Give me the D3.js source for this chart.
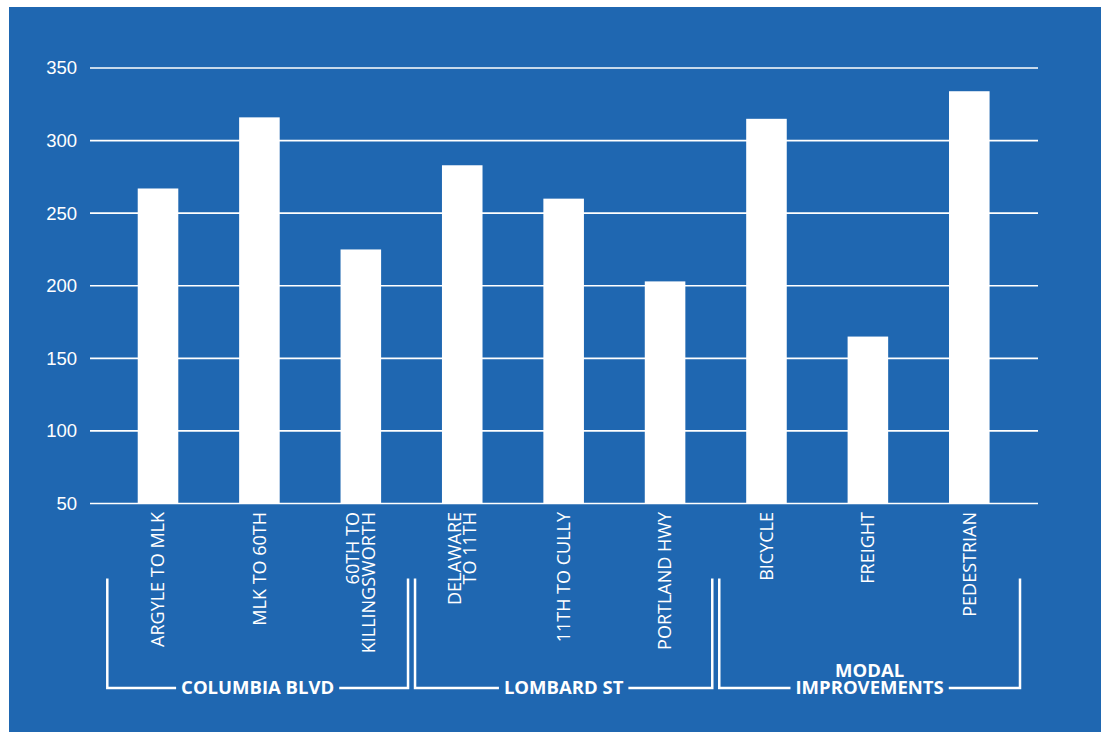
<!DOCTYPE html>
<html>
<head>
<meta charset="utf-8">
<script src="https://cdn.jsdelivr.net/npm/d3@7"></script>
<style>
  body { margin: 0; background: #fff; }
  svg { display: block; }
</style>
</head>
<body>
<div id="chart"></div>
<script>
// data
const categories = ["ARGYLE TO MLK", "MLK TO 60TH", "60TH TO|KILLINGSWORTH",
                    "DELAWARE|TO 11TH", "11TH TO CULLY", "PORTLAND HWY",
                    "BICYCLE", "FREIGHT", "PEDESTRIAN"]
const values = [267, 316, 225, 283, 260, 203, 315, 165, 334]
const groupNames = ["COLUMBIA BLVD", "LOMBARD ST", "MODAL|IMPROVEMENTS"]
const groupOf = [0, 0, 0, 1, 1, 1, 2, 2, 2]
const yTicks = [50, 100, 150, 200, 250, 300, 350]

const width = 1103,
      height = 732,
      blue = "#1f67b1"

let svg = d3.select("#chart")
    .append("svg")
    .attr("width", width)
    .attr("height", height)

// blue panel
svg.append("rect")
    .attr("x", 9).attr("y", 7)
    .attr("width", 1092).attr("height", 725)
    .attr("fill", blue)

// scales
let x = d3.scaleBand()
    .domain(categories)
    .range([107.3, 1020])
    .paddingInner(0.6)
    .paddingOuter(0.3)

let y = d3.scaleLinear()
    .domain([50, 350])
    .range([503.5, 68])

// y labels
let yAxis = svg.append("g")
    .attr("transform", "translate(90,0)")
    .call(d3.axisLeft(y).tickValues(yTicks).tickSize(0).tickPadding(13))

yAxis.select(".domain").remove()
yAxis.selectAll("text")
    .attr("fill", "#fff")
    .style("font-family", "'Liberation Sans', Arial, sans-serif")
    .style("font-size", "18.5px")

// gridlines
svg.append("g")
    .selectAll("line")
    .data(yTicks)
    .join("line")
    .attr("x1", 90)
    .attr("x2", 1038)
    .attr("y1", d => y(d))
    .attr("y2", d => y(d))
    .attr("stroke", "#fff")
    .attr("stroke-width", 1.6)

// bars
svg.append("g")
    .selectAll("rect")
    .data(values)
    .join("rect")
    .attr("x", (d, i) => x(categories[i]))
    .attr("width", x.bandwidth())
    .attr("y", d => y(d))
    .attr("height", d => y(50) - y(d))
    .attr("fill", "#fff")

// rotated category labels
let labels = svg.append("g")
    .selectAll("text")
    .data(categories)
    .join("text")
    .attr("transform", d => `translate(${x(d) + x.bandwidth() / 2},512) rotate(-90)`)
    .attr("text-anchor", "end")
    .attr("fill", "#fff")
    .style("font-family", "'Open Sans', sans-serif")
    .style("font-size", "18px")

labels.each(function(d) {
    let lines = d.split("|")
    let t = d3.select(this)
    lines.forEach((line, k) => {
        let off = (k - (lines.length - 1) / 2) * 15.5 + 6.4
        t.append("tspan")
            .attr("x", 0)
            .attr("y", off)
            .text(line)
    })
})

// group brackets
const step = x.step(),
      start = x.range()[0],
      bracketTop = 578.5,
      bracketY = 688

groupNames.forEach((name, g) => {
    let idx = groupOf.map((v, i) => v === g ? i : -1).filter(i => i >= 0)
    let x0 = start + idx[0] * step + (g === 0 ? 0 : 3.5)
    let x1 = start + (idx[idx.length - 1] + 1) * step - (g === groupNames.length - 1 ? 0 : 3.5)
    let cx = (x0 + x1) / 2

    let lines = name.split("|")
    let label = svg.append("text")
        .attr("text-anchor", "middle")
        .attr("fill", "#fff")
        .style("font-family", "'Open Sans', sans-serif")
        .style("font-weight", "bold")
        .style("font-size", "18.5px")
    lines.forEach((line, k) => {
        label.append("tspan")
            .attr("x", cx)
            .attr("y", bracketY + 6 - (lines.length - 1 - k) * 17.5)
            .text(line)
    })
    let w = d3.max(label.selectAll("tspan").nodes(), n => n.getComputedTextLength())
    let gap = w / 2 + 5

    let b = svg.append("g")
        .attr("stroke", "#fff")
        .attr("stroke-width", 2.5)
        .attr("fill", "none")
    b.append("path")
        .attr("d", `M${x0},${bracketTop}V${bracketY}H${cx - gap}`)
    b.append("path")
        .attr("d", `M${x1},${bracketTop}V${bracketY}H${cx + gap}`)
})
</script>
</body>
</html>
